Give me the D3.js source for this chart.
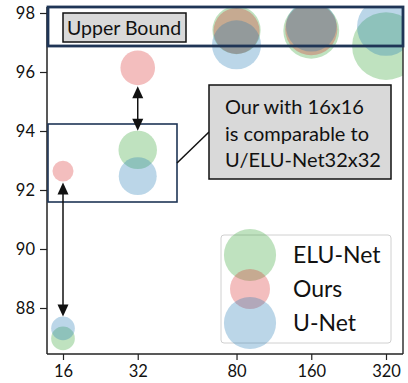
<!DOCTYPE html>
<html>
<head>
<meta charset="utf-8">
<script src="https://cdn.jsdelivr.net/npm/d3@7"></script>
<style>
  body { margin: 0; background: #fff; }
  text { font-family: Lato, "Open Sans", sans-serif; fill: #111; }
</style>
</head>
<body>
<div id="chart"></div>
<script>
// patch sizes per model, accuracy (%) and bubble size (~ area)
const models = ['ELU-Net', 'Ours', 'U-Net'];
const colors = ['#2ca02c', '#d62728', '#1f77b4'];
const patchSizes = [16, 32, 80, 160, 320];
const eluNet = [86.97, 93.36, 97.42, 97.40, 96.88];
const ours = [92.64, 96.14, 97.39, 97.45, null];
const uNet = [87.31, 92.47, 96.92, 97.55, 97.53];
const eluSize = [140, 370, 580, 780, 1150];
const oursSize = [110, 300, 530, 680, null];
const uNetSize = [140, 360, 600, 640, 840];
const legendSize = [680, 400, 680];
const yTicks = [88, 90, 92, 94, 96, 98];

const W = 408, H = 383;
const pLeft = 47, pRight = 403, pTop = 7, pBottom = 354;

const svg = d3.select('#chart').append('svg')
  .attr('width', W).attr('height', H);

const x = d3.scaleLog().base(2).domain([16, 320]).range([63, 386]);
const y = d3.scaleLinear().domain([88, 98]).range([308, 13]);
const r = d3.scaleSqrt().domain([0, 1000]).range([0, Math.sqrt(1000)]);

svg.append('clipPath').attr('id', 'plot')
  .append('rect')
  .attr('x', pLeft).attr('y', pTop)
  .attr('width', pRight - pLeft).attr('height', pBottom - pTop);

const series = [
  { vals: eluNet, sizes: eluSize },
  { vals: ours, sizes: oursSize },
  { vals: uNet, sizes: uNetSize },
];

const pts = [];
series.forEach((s, i) => {
  s.vals.forEach((v, j) => {
    if (v == null) return;
    pts.push({ x: patchSizes[j], y: v, s: s.sizes[j], c: colors[i] });
  });
});

svg.append('g').attr('clip-path', 'url(#plot)')
  .selectAll('circle')
  .data(pts)
  .join('circle')
  .attr('cx', d => x(d.x))
  .attr('cy', d => y(d.y))
  .attr('r', d => r(d.s))
  .attr('fill', d => d.c)
  .attr('fill-opacity', 0.3);

// spines
svg.append('line').attr('x1', pLeft).attr('x2', pLeft).attr('y1', pTop).attr('y2', pBottom)
  .attr('stroke', '#222').attr('stroke-width', 1.5);
svg.append('line').attr('x1', pRight).attr('x2', pRight).attr('y1', pTop).attr('y2', pBottom)
  .attr('stroke', '#333').attr('stroke-width', 1.5);
svg.append('line').attr('x1', pLeft).attr('x2', pRight).attr('y1', pBottom).attr('y2', pBottom)
  .attr('stroke', '#222').attr('stroke-width', 1.5);

// axes
const yAxis = svg.append('g')
  .attr('transform', `translate(${pLeft},0)`)
  .call(d3.axisLeft(y).tickValues(yTicks).tickSize(7).tickPadding(5));
const xAxis = svg.append('g')
  .attr('transform', `translate(0,${pBottom})`)
  .call(d3.axisBottom(x).tickValues(patchSizes).tickFormat(d3.format('d')).tickSize(6).tickPadding(5));
[yAxis, xAxis].forEach(a => {
  a.select('.domain').remove();
  a.selectAll('line').attr('stroke', '#222').attr('stroke-width', 1.2);
  a.selectAll('text').attr('font-size', 16.5).attr('font-family', 'Lato, sans-serif').attr('fill', '#111');
});

// upper bound band
svg.append('rect')
  .attr('x', 48).attr('y', pTop).attr('width', pRight - 48).attr('height', 39)
  .attr('fill', 'none').attr('stroke', '#1f3556').attr('stroke-width', 2.8);
svg.append('rect')
  .attr('x', 63).attr('y', 13).attr('width', 123).attr('height', 29)
  .attr('fill', '#d9d9d9').attr('stroke', '#111').attr('stroke-width', 1.5);
svg.append('text').attr('x', 67).attr('y', 34.5)
  .attr('font-size', 19.5).text('Upper Bound');

// highlight box around 16 / 32 results
svg.append('rect')
  .attr('x', 48).attr('y', 124).attr('width', 129).attr('height', 78)
  .attr('fill', 'none').attr('stroke', '#1f3556').attr('stroke-width', 1.6);
svg.append('line').attr('x1', 177).attr('y1', 163).attr('x2', 209).attr('y2', 132)
  .attr('stroke', '#111').attr('stroke-width', 1.5);

// callout
svg.append('rect')
  .attr('x', 209).attr('y', 85).attr('width', 182).attr('height', 94)
  .attr('fill', '#d9d9d9').attr('stroke', '#111').attr('stroke-width', 1.5);
const callout = ['Our with 16x16', 'is comparable to', 'U/ELU-Net32x32'];
svg.append('g').selectAll('text')
  .data(callout)
  .join('text')
  .attr('x', 225)
  .attr('y', (d, i) => 114 + i * 26.5)
  .attr('font-size', 20)
  .text(d => d);

// double arrows between circle edges
function dArrow(px, y1, y2) {
  const g = svg.append('g');
  const h = 12, w = 5.5;
  g.append('line').attr('x1', px).attr('x2', px).attr('y1', y1 + h - 1).attr('y2', y2 - h + 1)
    .attr('stroke', '#111').attr('stroke-width', 1.5);
  g.append('path').attr('d', `M${px},${y1}L${px - w},${y1 + h}L${px + w},${y1 + h}Z`).attr('fill', '#111');
  g.append('path').attr('d', `M${px},${y2}L${px - w},${y2 - h}L${px + w},${y2 - h}Z`).attr('fill', '#111');
}
dArrow(x(16), y(ours[0]) + r(oursSize[0]) + 1, y(uNet[0]) - r(uNetSize[0]));
dArrow(x(32), y(ours[1]) + r(oursSize[1]) + 1, y(eluNet[1]) - r(eluSize[1]));

// legend
svg.append('rect')
  .attr('x', 221).attr('y', 235).attr('width', 170).attr('height', 108).attr('rx', 3)
  .attr('fill', '#fff').attr('fill-opacity', 0.8)
  .attr('stroke', '#d0d0d0').attr('stroke-width', 1);
const lg = svg.append('g').selectAll('g')
  .data(models)
  .join('g')
  .attr('transform', (d, i) => `translate(250,${255 + i * 34})`);
lg.append('circle')
  .attr('r', (d, i) => r(legendSize[i]))
  .attr('fill', (d, i) => colors[i])
  .attr('fill-opacity', 0.3);
lg.append('text')
  .attr('x', 43).attr('dy', '0.35em')
  .attr('font-size', 23)
  .text(d => d);
</script>
</body>
</html>
